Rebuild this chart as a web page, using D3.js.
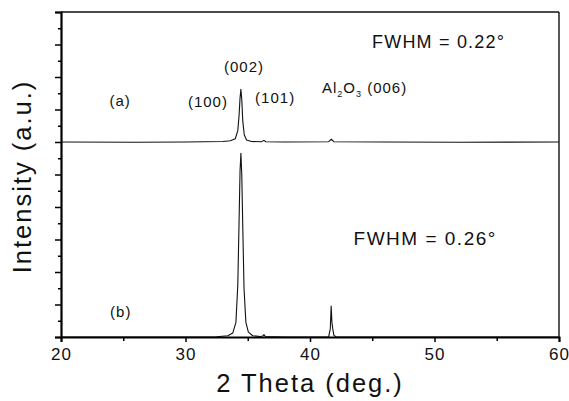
<!doctype html>
<html lang="en">
<head>
    <meta charset="UTF-8">
    <title>XRD</title>
    <style>
        body { margin: 0; background: #fff; }
        text { font-family: "Liberation Sans", Arial, sans-serif; fill: #111; }
        .trace { fill: none; stroke: #111; stroke-width: 1.1; stroke-linejoin: round; }
    </style>
</head>
<body>
    <svg width="569" height="401"></svg>
    <script src="https://cdn.jsdelivr.net/npm/d3@7/dist/d3.min.js"></script>
    <script>
        // 2 theta (deg.) and intensity (a.u.)
        const thetaA = [20, 26, 30, 33.0, 33.6, 34.0, 34.2, 34.3, 34.38, 34.45, 34.52, 34.6, 34.72, 34.9, 35.3, 36.1, 36.3, 36.45, 38, 41.5, 41.72, 41.9, 46, 52, 60];
        const intensA = [0, -0.02, 0, 0.03, 0.08, 0.2, 0.7, 1.6, 2.7, 3.25, 2.6, 1.3, 0.45, 0.12, 0.03, 0.02, 0.1, 0.02, 0, 0.02, 0.17, 0.02, 0, -0.02, 0];
        const offsetA = 12;

        const thetaB = [20, 28, 32.5, 33.4, 33.8, 34.05, 34.2, 34.3, 34.38, 34.45, 34.52, 34.6, 34.7, 34.85, 35.05, 35.4, 36.0, 36.2, 36.3, 36.42, 38, 41.5, 41.63, 41.7, 41.76, 41.83, 41.92, 42.1, 50, 60];
        const intensB = [0, 0, 0.02, 0.08, 0.25, 0.9, 3.2, 7.0, 10.2, 11.3, 10.0, 6.8, 3.0, 0.9, 0.3, 0.08, 0.03, 0.06, 0.15, 0.03, 0, 0.02, 0.5, 1.9, 0.9, 0.5, 0.1, 0.02, 0, 0];

        const xTicks = [20, 30, 40, 50, 60];
        const xMinor = [25, 35, 45, 55];

        const labels = [
            {t: "(002)", x: 34.7, y: 16.3, a: "middle"},
            {t: "(a)", x: 24.75, y: 14.2, a: "middle"},
            {t: "(100)", x: 31.8, y: 14.15, a: "middle"},
            {t: "(101)", x: 37.2, y: 14.4, a: "middle"},
            {t: "(b)", x: 24.8, y: 1.23, a: "middle"}
        ];

        const svg = d3.select("svg"),
            margin = {top: 12, right: 10, bottom: 64, left: 61},
            width = +svg.attr("width") - margin.left - margin.right,
            height = +svg.attr("height") - margin.top - margin.bottom,
            g = svg.append("g").attr("transform", "translate(" + margin.left + "," + margin.top + ")");

        const x = d3.scaleLinear().domain([20, 60]).range([0, width]);
        const y = d3.scaleLinear().domain([0, 20]).range([height, 0]);

        const line = d3.line()
            .x(function(d) { return x(d[0]); })
            .y(function(d) { return y(d[1]); });

        g.append("path")
            .attr("class", "trace")
            .attr("d", line(thetaA.map(function(t, i) { return [t, intensA[i] + offsetA]; })));

        g.append("path")
            .attr("class", "trace")
            .attr("d", line(thetaB.map(function(t, i) { return [t, intensB[i]]; })));

        // frame
        g.append("line").attr("x1", 0).attr("x2", width).attr("y1", 0).attr("y2", 0)
            .attr("stroke", "#111").attr("stroke-width", 1.6);
        g.append("line").attr("x1", width).attr("x2", width).attr("y1", 0).attr("y2", height)
            .attr("stroke", "#111").attr("stroke-width", 1.4);

        // x axis
        const xAxis = g.append("g")
            .attr("transform", "translate(0," + height + ")")
            .call(d3.axisBottom(x).tickValues(xTicks).tickSize(5).tickPadding(6).tickFormat(d3.format("d")));
        g.append("g")
            .attr("transform", "translate(0," + height + ")")
            .call(d3.axisBottom(x).tickValues(xMinor).tickSize(4).tickFormat(""))
            .select(".domain").remove();
        xAxis.select(".domain").attr("stroke-width", 2);
        xAxis.selectAll("text")
            .attr("font-size", 17).attr("letter-spacing", 1)
            .style("font-family", "'Liberation Sans', Arial, sans-serif");

        // y axis
        const yAxis = g.append("g")
            .call(d3.axisLeft(y).tickValues(d3.range(0, 21, 2)).tickSize(6).tickFormat(""));
        g.append("g")
            .call(d3.axisLeft(y).tickValues(d3.range(1, 20, 2)).tickSize(3).tickFormat(""))
            .select(".domain").remove();
        yAxis.select(".domain").attr("stroke-width", 2.2);
        g.selectAll(".tick line").attr("stroke-width", 1.5);

        // axis titles
        svg.append("text")
            .attr("x", margin.left + width / 2)
            .attr("y", 392)
            .attr("text-anchor", "middle")
            .attr("font-size", 25.5)
            .attr("letter-spacing", 2)
            .text("2 Theta (deg.)");

        svg.append("text")
            .attr("transform", "translate(31," + (margin.top + height / 2 + 2) + ") rotate(-90)")
            .attr("text-anchor", "middle")
            .attr("font-size", 25.5)
            .attr("letter-spacing", 2)
            .text("Intensity (a.u.)");

        // peak labels
        g.selectAll(".lbl")
            .data(labels)
            .enter().append("text")
            .attr("class", "lbl")
            .attr("x", function(d) { return x(d.x); })
            .attr("y", function(d) { return y(d.y); })
            .attr("text-anchor", function(d) { return d.a; })
            .attr("font-size", 15)
            .attr("letter-spacing", 1)
            .text(function(d) { return d.t; });

        const al = g.append("text")
            .attr("x", x(40.96)).attr("y", y(15.0))
            .attr("font-size", 15).attr("letter-spacing", 1);
        al.append("tspan").text("Al");
        al.append("tspan").attr("font-size", 9).attr("dy", 4).text("2");
        al.append("tspan").attr("dy", -4).text("O");
        al.append("tspan").attr("font-size", 9).attr("dy", 4).text("3");
        al.append("tspan").attr("dy", -4).text(" (006)");

        g.append("text")
            .attr("x", x(44.98)).attr("y", y(17.8))
            .attr("font-size", 18).attr("letter-spacing", 1.2)
            .text("FWHM = 0.22°");
        g.append("text")
            .attr("x", x(43.5)).attr("y", y(5.66))
            .attr("font-size", 19).attr("letter-spacing", 1.5)
            .text("FWHM = 0.26°");
    </script>
</body>
</html>
